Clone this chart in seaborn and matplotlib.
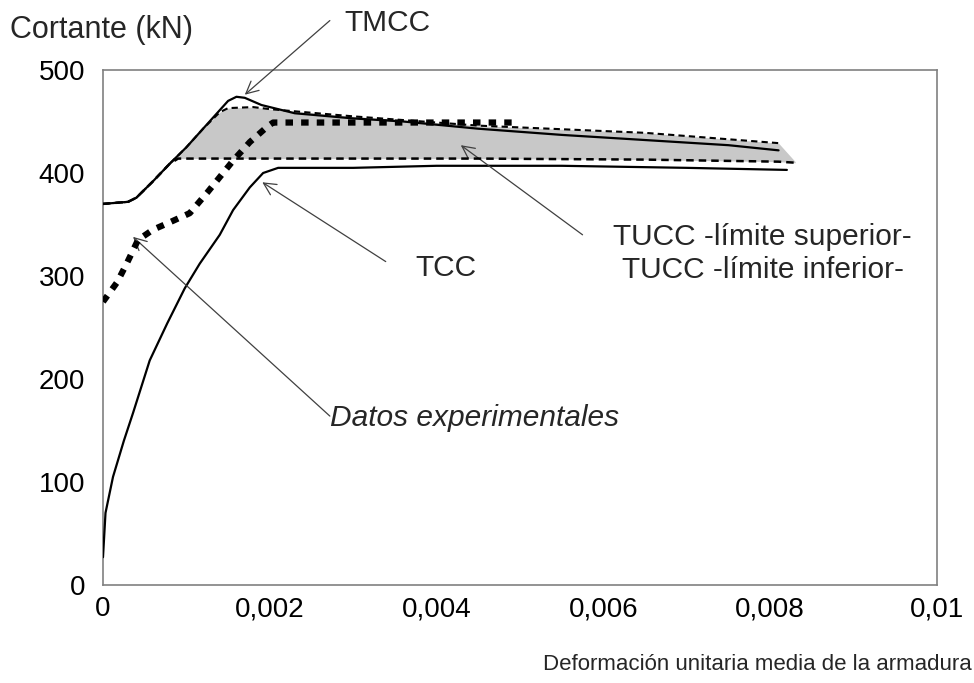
import numpy as np
import pandas as pd
import matplotlib
matplotlib.use("Agg")
import matplotlib.pyplot as plt
from matplotlib import font_manager
import seaborn as sns

# ---- data ----
tmcc_x = [0, 0.0003, 0.0004, 0.0006, 0.0008, 0.0010, 0.0012, 0.0014, 0.0015, 0.0016, 0.0017,
          0.0019, 0.0023, 0.0030, 0.0036, 0.0045, 0.0055, 0.0065, 0.0075, 0.0081]
tmcc_y = [370, 372, 376, 392, 409, 425, 443, 461, 470, 474, 473,
          466, 458, 453, 450, 443, 437, 432, 427, 422]

tucc_x = [0, 0.0003, 0.0004, 0.0006, 0.0008, 0.0009, 0.0010, 0.0012, 0.0014, 0.0015, 0.0018,
          0.0020, 0.0030, 0.0045, 0.0065, 0.0081, 0.0083]
tucc_sup = [370, 372, 376, 392, 409, 417, 425, 443, 459, 463, 464,
            462, 455, 446, 439, 429, 411]
tucc_inf = [370, 372, 376, 392, 409, 414, 414, 414, 414, 414, 414,
            414, 414, 414, 413, 411, 410]

tcc_x = [0, 0.00003, 0.00012, 0.00025, 0.00036, 0.00056, 0.00077, 0.00098, 0.00116, 0.0014,
         0.00156, 0.00176, 0.00192, 0.0021, 0.0030, 0.0040, 0.0055, 0.0070, 0.0082]
tcc_y = [27, 70, 105, 140, 167, 218, 254, 288, 312, 340,
         364, 386, 400, 405, 405, 407, 407, 405, 403]

exp_x = [0, 0.00017, 0.00029, 0.00042, 0.0006, 0.00077, 0.00104, 0.00125, 0.0014, 0.00156,
         0.00176, 0.00197, 0.00204, 0.0030, 0.0040, 0.0049]
exp_y = [275, 294, 313, 335, 345, 351, 361, 381, 396, 412,
         430, 445, 449, 449, 449, 449]

x_ticks = [0, 0.002, 0.004, 0.006, 0.008, 0.01]
x_tick_labels = ["0", "0,002", "0,004", "0,006", "0,008", "0,01"]
y_ticks = [0, 100, 200, 300, 400, 500]

# ---- style ----
sns.set_theme(style="white")
plt.rcParams["font.family"] = ["Liberation Sans", "DejaVu Sans"]
FS_TICK = 20
FS_ANN = 21.5

installed = {f.name for f in font_manager.fontManager.ttflist}
if "Liberation Sans Narrow" in installed:
    xlab_family, xlab_size = ["Liberation Sans Narrow", "DejaVu Sans"], 19.5
else:
    xlab_family, xlab_size = ["Liberation Sans", "DejaVu Sans"], 16

fig = plt.figure(figsize=(9.74, 6.83), dpi=100)
ax = fig.add_axes([103 / 974, (683 - 585) / 683, 834 / 974, 515 / 683])

# shaded band between TUCC bounds
ax.fill_between(tucc_x, tucc_inf, tucc_sup, color="#c8c8c8", lw=0, zorder=1)

df_tmcc = pd.DataFrame({"x": tmcc_x, "y": tmcc_y})
df_tcc = pd.DataFrame({"x": tcc_x, "y": tcc_y})
df_sup = pd.DataFrame({"x": tucc_x[:-1], "y": tucc_sup[:-1]})
df_inf = pd.DataFrame({"x": tucc_x, "y": tucc_inf})
df_exp = pd.DataFrame({"x": exp_x, "y": exp_y})

sns.lineplot(data=df_tmcc, x="x", y="y", ax=ax, color="black", lw=1.6, sort=False, zorder=3)
sns.lineplot(data=df_tcc, x="x", y="y", ax=ax, color="black", lw=1.6, sort=False, zorder=3)
sns.lineplot(data=df_sup, x="x", y="y", ax=ax, color="black", lw=1.5, sort=False, zorder=4,
             linestyle=(0, (3, 2)))
sns.lineplot(data=df_inf, x="x", y="y", ax=ax, color="black", lw=1.8, sort=False, zorder=4,
             linestyle=(0, (3, 2)))
sns.lineplot(data=df_exp, x="x", y="y", ax=ax, color="black", lw=4.5, sort=False, zorder=5,
             linestyle=(0, (1.2, 1.3)))

ax.set_xlim(0, 0.01)
ax.set_ylim(0, 500)
ax.set_xticks(x_ticks)
ax.set_xticklabels(x_tick_labels)
ax.set_yticks(y_ticks)
ax.set_xlabel("")
ax.set_ylabel("")
ax.tick_params(axis="both", labelsize=FS_TICK, colors="#808080", labelcolor="black",
               length=6, width=1, direction="out")
ax.tick_params(axis="x", pad=2)
ax.tick_params(axis="y", pad=7)
for s in ax.spines.values():
    s.set_color("#808080")
    s.set_linewidth(1.2)

# axis titles
fig.text(10 / 974, 1 - 30 / 683, "Cortante (kN)", fontsize=22, ha="left", va="center")
fig.text(972 / 974, 1 - 665 / 683, "Deformación unitaria media de la armadura",
         fontsize=xlab_size, family=xlab_family, ha="right", va="center")

arrow = dict(arrowstyle="->", color="#404040", lw=0.9, shrinkA=0, shrinkB=0,
             mutation_scale=22)

ax.annotate("", xy=(0.0017, 476), xytext=(0.00272, 548), arrowprops=arrow,
            annotation_clip=False)
ax.text(0.0029, 546, "TMCC", fontsize=FS_ANN, ha="left", va="center", clip_on=False)

ax.annotate("", xy=(0.00191, 391), xytext=(0.00339, 314), arrowprops=arrow)
ax.text(0.00411, 308, "TCC", fontsize=FS_ANN, ha="center", va="center")

ax.annotate("", xy=(0.00429, 427), xytext=(0.00575, 340), arrowprops=arrow)
ax.text(0.00791, 338, "TUCC -límite superior-", fontsize=FS_ANN, ha="center", va="center")
ax.text(0.00791, 306, "TUCC -límite inferior-", fontsize=FS_ANN, ha="center", va="center")

ax.annotate("", xy=(0.00036, 338), xytext=(0.00272, 164), arrowprops=arrow)
ax.text(0.00272, 162, "Datos experimentales", fontsize=FS_ANN, ha="left", va="center",
        style="italic")

fig.savefig("out.png", dpi=100)
